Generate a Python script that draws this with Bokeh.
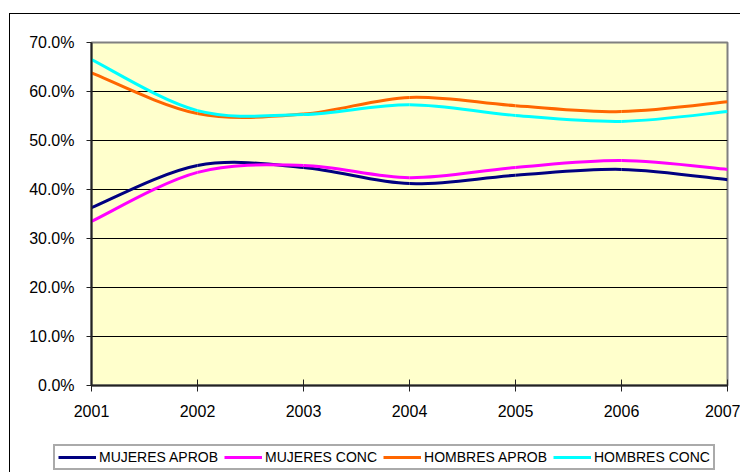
import numpy as np
from bokeh.plotting import figure
from bokeh.layouts import column, row
from bokeh.models import Range1d, FixedTicker, NumeralTickFormatter, Legend, LegendItem
from bokeh.embed import file_html
from bokeh.resources import INLINE

years = [2001, 2002, 2003, 2004, 2005, 2006, 2007]
mujeres_aprob = [0.363, 0.449, 0.445, 0.412, 0.429, 0.441, 0.420]
mujeres_conc = [0.335, 0.435, 0.449, 0.424, 0.445, 0.459, 0.441]
hombres_aprob = [0.638, 0.555, 0.554, 0.588, 0.571, 0.559, 0.579]
hombres_conc = [0.665, 0.561, 0.553, 0.573, 0.551, 0.539, 0.559]
y_ticks = [0.0, 0.1, 0.2, 0.3, 0.4, 0.5, 0.6, 0.7]

series = [
    ("MUJERES APROB", mujeres_aprob, "#000080"),
    ("MUJERES CONC", mujeres_conc, "#FF00FF"),
    ("HOMBRES APROB", hombres_aprob, "#FF6600"),
    ("HOMBRES CONC", hombres_conc, "#00FFFF"),
]

FONT = "Liberation Sans"

p = figure(width=730, height=430, output_backend="svg", toolbar_location=None,
           x_range=Range1d(2001, 2007), y_range=Range1d(0, 0.7),
           min_border_left=81, min_border_top=28, min_border_right=13,
           min_border_bottom=59, title=None)

p.background_fill_color = "#FFFFCC"
p.border_fill_color = "white"
p.outline_line_color = "#808080"
p.outline_line_width = 2

p.xgrid.visible = False
p.ygrid.grid_line_color = "black"
p.ygrid.grid_line_width = 1
p.ygrid.ticker = FixedTicker(ticks=y_ticks)

p.yaxis.ticker = FixedTicker(ticks=y_ticks)
p.yaxis.formatter = NumeralTickFormatter(format="0.0%")
p.xaxis.ticker = FixedTicker(ticks=years)
p.xaxis.formatter = NumeralTickFormatter(format="0")
for ax in (p.xaxis[0], p.yaxis[0]):
    ax.axis_line_color = "#222222"
    ax.axis_line_width = 2
    ax.major_tick_line_color = "#222222"
    ax.major_tick_line_width = 1
    ax.minor_tick_line_color = None
    ax.major_label_text_font = FONT
    ax.major_label_text_font_size = "16px"
    ax.major_label_text_color = "black"
p.xaxis.major_tick_in = 6
p.xaxis.major_tick_out = 6
p.xaxis.major_label_standoff = 13
p.yaxis.major_tick_in = 0
p.yaxis.major_tick_out = 5
p.yaxis.major_label_standoff = 12

# legend lives in a small strip figure under the chart
lg = figure(width=730, height=28, output_backend="svg", toolbar_location=None,
            x_range=Range1d(0, 1), y_range=Range1d(0, 1),
            x_axis_type=None, y_axis_type=None, title=None,
            min_border_left=0, min_border_right=0, min_border_top=0,
            min_border_bottom=0)
lg.xgrid.visible = False
lg.ygrid.visible = False
lg.outline_line_color = None
lg.background_fill_color = "white"
lg.border_fill_color = "white"

items = []
xs = np.array(years, dtype=float)
for name, vals, color in series:
    ys = np.array(vals, dtype=float)
    n = len(xs)
    # smoothed (Excel-style) Bezier segments through the data points
    xp = np.concatenate([[xs[0]], xs, [xs[-1]]])
    yp = np.concatenate([[ys[0]], ys, [ys[-1]]])
    x0 = xs[:-1]; y0 = ys[:-1]; x1 = xs[1:]; y1 = ys[1:]
    cx0 = xs[:-1] + (xp[2:n + 1] - xp[0:n - 1]) / 6.0
    cy0 = ys[:-1] + (yp[2:n + 1] - yp[0:n - 1]) / 6.0
    cx1 = xs[1:] - (xp[3:n + 2] - xp[1:n]) / 6.0
    cy1 = ys[1:] - (yp[3:n + 2] - yp[1:n]) / 6.0
    p.bezier(x0=x0, y0=y0, x1=x1, y1=y1, cx0=cx0, cy0=cy0, cx1=cx1, cy1=cy1,
             line_color=color, line_width=3)
    # same series in the legend strip (outside its visible range) for the key glyph
    r = lg.line(x=years, y=vals, line_color=color, line_width=3)
    items.append(LegendItem(label=name, renderers=[r]))

legend = Legend(items=items, orientation="horizontal", location=(43, 2),
                label_text_font=FONT, label_text_font_size="14px",
                label_text_color="black",
                glyph_width=38, glyph_height=14, label_standoff=3, spacing=6,
                padding=3, margin=0, border_line_color="#555555",
                border_line_width=2, background_fill_color="white",
                background_fill_alpha=1.0)
lg.add_layout(legend, "center")

layout = column(p, row(lg), spacing=0)
layout.margin = (13, 0, 0, 9)
layout.styles = {"border-top": "1px solid black", "border-left": "1px solid black"}

open("out.html", "w").write(file_html(layout, INLINE))
